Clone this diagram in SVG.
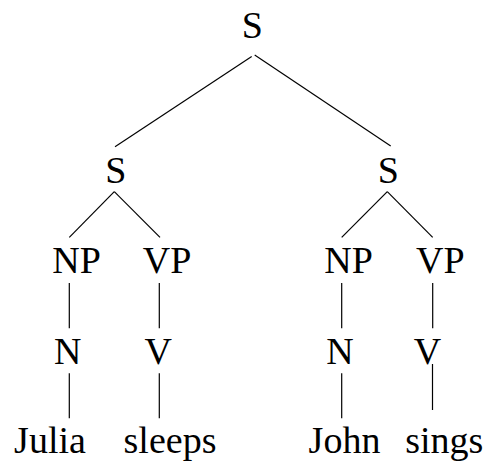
<svg xmlns="http://www.w3.org/2000/svg" width="489" height="466" viewBox="0 0 489 466">
<style>
  text { font-family: "Liberation Serif", "Times New Roman", serif; font-size: 38px; fill: #000; text-anchor: middle; }
  .edge { stroke: #000; stroke-width: 1.2; fill: none; }
</style>
<rect width="489" height="466" fill="#fff"/>
<g id="connectors">
  <line class="edge" x1="251.7" y1="56.5" x2="115" y2="146.7"/>
  <line class="edge" x1="254.7" y1="55" x2="390.7" y2="146"/>
  <line class="edge" x1="114.3" y1="191.7" x2="69.3" y2="237.3"/>
  <line class="edge" x1="114.3" y1="191.7" x2="160" y2="237.3"/>
  <line class="edge" x1="387.3" y1="191.7" x2="341.7" y2="237.3"/>
  <line class="edge" x1="387.3" y1="191.7" x2="432.7" y2="237.3"/>
  <line class="edge" x1="69.3" y1="283" x2="69.3" y2="328.3"/>
  <line class="edge" x1="159.3" y1="283" x2="159.3" y2="328.3"/>
  <line class="edge" x1="341.7" y1="283" x2="341.7" y2="328.3"/>
  <line class="edge" x1="432.7" y1="283" x2="432.7" y2="328.3"/>
  <line class="edge" x1="69.3" y1="373.3" x2="69.3" y2="418.3"/>
  <line class="edge" x1="159.3" y1="373.3" x2="159.3" y2="418.3"/>
  <line class="edge" x1="341.7" y1="373.3" x2="341.7" y2="418.3"/>
  <line class="edge" x1="432.5" y1="364" x2="432.5" y2="410"/>
</g>
<g id="s-root"><text x="252.2" y="38.3">S</text></g>
<g id="s-left"><text x="115.8" y="183.3">S</text></g>
<g id="s-right"><text x="388.2" y="183.3">S</text></g>
<g id="np-left"><text x="76.5" y="273.4">NP</text></g>
<g id="vp-left"><text x="167" y="273.4">VP</text></g>
<g id="np-right"><text x="348.5" y="273.4">NP</text></g>
<g id="vp-right"><text x="440.3" y="273.4">VP</text></g>
<g id="n-left"><text x="67.8" y="364.3">N</text></g>
<g id="v-left"><text x="158.3" y="364.3">V</text></g>
<g id="n-right"><text x="340" y="364.3">N</text></g>
<g id="v-right"><text x="427.5" y="364.3">V</text></g>
<g id="w-julia"><text x="50" y="453.3">Julia</text></g>
<g id="w-sleeps"><text x="170" y="453.3">sleeps</text></g>
<g id="w-john"><text x="344.5" y="453.3">John</text></g>
<g id="w-sings"><text x="444.2" y="453.3">sings</text></g>
</svg>
